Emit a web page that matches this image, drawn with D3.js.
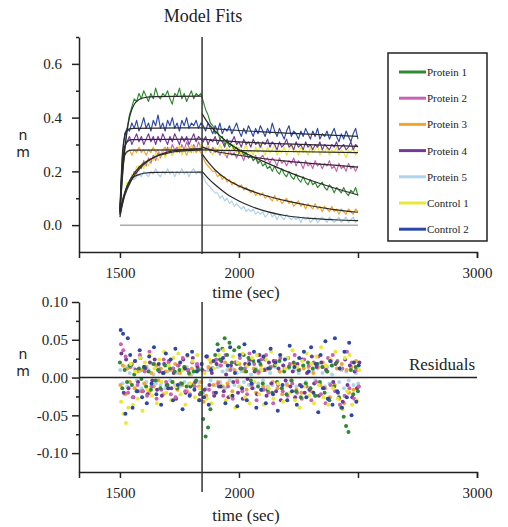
<!DOCTYPE html>
<html>
<head>
<meta charset="utf-8">
<script src="https://cdn.jsdelivr.net/npm/d3@7"></script>
<style>
body { margin: 0; background: #fff; }
text { font-family: "Liberation Serif", "Times New Roman", serif; fill: #222; }
</style>
</head>
<body>
<script>
// ---- data ----
var seriesNames = ["Protein 1", "Protein 2", "Protein 3", "Protein 4", "Protein 5", "Control 1", "Control 2"];
var seriesColors = ["#2f8a2f", "#c862b4", "#f2a52c", "#76399a", "#aed3ee", "#e9e935", "#2c48a6"];

var dissocStart = 1845;

// sampling times (sec) shared by traces and residuals
var traceTimes = [
  1500,1510,1520,1530,1540,1550,1560,1570,1580,1590,
  1600,1610,1620,1630,1640,1650,1660,1670,1680,1690,
  1700,1710,1720,1730,1740,1750,1760,1770,1780,1790,
  1800,1810,1820,1830,1840,1850,1860,1870,1880,1890,
  1900,1910,1920,1930,1940,1950,1960,1970,1980,1990,
  2000,2010,2020,2030,2040,2050,2060,2070,2080,2090,
  2100,2110,2120,2130,2140,2150,2160,2170,2180,2190,
  2200,2210,2220,2230,2240,2250,2260,2270,2280,2290,
  2300,2310,2320,2330,2340,2350,2360,2370,2380,2390,
  2400,2410,2420,2430,2440,2450,2460,2470,2480,2490,
  2500];

var protein1 = [
  0.05,0.17,0.28,0.36,0.41,0.44,0.47,0.46,0.49,0.47,
  0.50,0.48,0.46,0.49,0.47,0.51,0.48,0.47,0.49,0.48,
  0.50,0.47,0.45,0.49,0.48,0.51,0.47,0.49,0.46,0.48,
  0.50,0.47,0.49,0.48,0.49,0.46,0.43,0.41,0.38,0.37,
  0.34,0.35,0.32,0.33,0.30,0.31,0.29,0.30,0.28,0.29,
  0.27,0.28,0.26,0.27,0.25,0.26,0.24,0.25,0.23,0.24,
  0.22,0.23,0.21,0.22,0.20,0.22,0.20,0.19,0.21,0.19,
  0.18,0.20,0.18,0.17,0.19,0.17,0.16,0.18,0.16,0.15,
  0.17,0.15,0.16,0.14,0.15,0.16,0.14,0.13,0.15,0.14,
  0.12,0.14,0.13,0.12,0.14,0.12,0.11,0.13,0.12,0.14,
  0.11];
var protein2 = [
  0.04,0.08,0.12,0.14,0.16,0.17,0.20,0.19,0.22,0.21,
  0.24,0.22,0.25,0.23,0.26,0.24,0.27,0.25,0.28,0.26,
  0.29,0.27,0.30,0.28,0.29,0.27,0.30,0.28,0.31,0.29,
  0.28,0.30,0.28,0.31,0.29,0.29,0.28,0.30,0.27,0.29,
  0.27,0.28,0.26,0.28,0.27,0.25,0.28,0.26,0.27,0.25,
  0.27,0.26,0.24,0.27,0.25,0.26,0.24,0.26,0.23,0.25,
  0.26,0.24,0.25,0.23,0.25,0.24,0.22,0.25,0.23,0.24,
  0.22,0.24,0.23,0.25,0.22,0.24,0.23,0.21,0.24,0.22,
  0.23,0.21,0.24,0.22,0.23,0.21,0.23,0.22,0.24,0.21,
  0.22,0.20,0.23,0.21,0.22,0.20,0.23,0.21,0.22,0.20,
  0.22];
var protein3 = [
  0.04,0.20,0.26,0.27,0.28,0.26,0.28,0.27,0.29,0.27,
  0.28,0.26,0.28,0.27,0.29,0.27,0.28,0.26,0.28,0.29,
  0.27,0.28,0.26,0.28,0.27,0.29,0.27,0.28,0.26,0.28,
  0.27,0.29,0.27,0.28,0.27,0.25,0.23,0.22,0.21,0.20,
  0.20,0.18,0.19,0.17,0.18,0.16,0.17,0.15,0.16,0.15,
  0.14,0.15,0.13,0.14,0.13,0.12,0.13,0.11,0.12,0.11,
  0.12,0.10,0.11,0.10,0.09,0.11,0.09,0.10,0.08,0.09,
  0.10,0.08,0.09,0.07,0.08,0.09,0.07,0.08,0.06,0.08,
  0.07,0.06,0.08,0.06,0.07,0.05,0.07,0.06,0.05,0.07,
  0.05,0.06,0.04,0.06,0.05,0.04,0.06,0.05,0.04,0.06,
  0.05];
var protein4 = [
  0.05,0.22,0.29,0.31,0.33,0.30,0.32,0.34,0.31,0.33,
  0.30,0.32,0.34,0.31,0.33,0.30,0.33,0.31,0.34,0.32,
  0.30,0.33,0.31,0.34,0.32,0.30,0.33,0.31,0.33,0.30,
  0.32,0.34,0.31,0.33,0.32,0.31,0.33,0.30,0.32,0.31,
  0.33,0.30,0.32,0.31,0.29,0.32,0.30,0.31,0.33,0.30,
  0.31,0.29,0.32,0.30,0.31,0.29,0.32,0.30,0.31,0.29,
  0.31,0.30,0.32,0.29,0.31,0.30,0.28,0.31,0.29,0.30,
  0.32,0.29,0.30,0.28,0.31,0.29,0.30,0.28,0.31,0.29,
  0.30,0.28,0.30,0.29,0.31,0.28,0.30,0.29,0.28,0.30,
  0.29,0.31,0.28,0.29,0.30,0.28,0.29,0.31,0.28,0.30,
  0.29];
var protein5 = [
  0.03,0.07,0.11,0.13,0.15,0.17,0.17,0.18,0.19,0.18,
  0.20,0.19,0.18,0.20,0.19,0.21,0.19,0.18,0.20,0.19,
  0.21,0.19,0.20,0.18,0.20,0.19,0.21,0.19,0.20,0.18,
  0.20,0.21,0.19,0.20,0.19,0.18,0.16,0.15,0.14,0.13,
  0.12,0.12,0.10,0.11,0.09,0.10,0.08,0.09,0.07,0.08,
  0.07,0.06,0.07,0.05,0.06,0.05,0.06,0.04,0.05,0.04,
  0.05,0.03,0.04,0.05,0.03,0.04,0.02,0.04,0.03,0.02,
  0.04,0.03,0.02,0.03,0.02,0.03,0.01,0.03,0.02,0.03,
  0.01,0.02,0.03,0.01,0.02,0.03,0.02,0.01,0.03,0.02,
  0.01,0.02,0.03,0.01,0.02,0.03,0.01,0.02,0.03,0.01,
  0.02];
var control1 = [
  0.05,0.10,0.11,0.16,0.15,0.19,0.18,0.22,0.20,0.23,
  0.21,0.24,0.22,0.25,0.24,0.27,0.24,0.26,0.28,0.25,
  0.27,0.29,0.26,0.28,0.27,0.30,0.26,0.28,0.29,0.27,
  0.30,0.27,0.29,0.28,0.30,0.29,0.27,0.30,0.28,0.26,
  0.29,0.27,0.30,0.28,0.26,0.29,0.27,0.28,0.30,0.27,
  0.29,0.26,0.28,0.30,0.27,0.28,0.26,0.29,0.27,0.30,
  0.28,0.26,0.29,0.27,0.28,0.30,0.26,0.28,0.27,0.29,
  0.26,0.28,0.30,0.27,0.28,0.26,0.29,0.27,0.28,0.26,
  0.29,0.27,0.28,0.30,0.26,0.28,0.27,0.29,0.26,0.28,
  0.27,0.29,0.26,0.28,0.27,0.25,0.28,0.27,0.29,0.26,
  0.28];
var control2 = [
  0.06,0.25,0.34,0.36,0.35,0.38,0.36,0.39,0.35,0.37,
  0.40,0.36,0.38,0.35,0.39,0.37,0.41,0.36,0.38,0.35,
  0.39,0.37,0.40,0.36,0.38,0.35,0.39,0.37,0.40,0.36,
  0.38,0.37,0.39,0.36,0.38,0.37,0.35,0.38,0.36,0.34,
  0.37,0.35,0.38,0.34,0.36,0.35,0.37,0.34,0.36,0.38,
  0.35,0.33,0.36,0.34,0.37,0.35,0.33,0.36,0.34,0.37,
  0.35,0.33,0.36,0.34,0.38,0.35,0.33,0.36,0.34,0.32,
  0.35,0.37,0.33,0.35,0.34,0.32,0.35,0.33,0.36,0.34,
  0.32,0.35,0.33,0.36,0.32,0.34,0.33,0.35,0.32,0.34,
  0.36,0.33,0.31,0.34,0.32,0.35,0.33,0.31,0.34,0.36,
  0.32];

// model fit curves: [association phase, dissociation phase], points as [time, nm]
var fitProtein1 = [
  [[1500,0.05],[1510,0.18],[1520,0.28],[1530,0.35],[1540,0.40],[1550,0.43],[1560,0.45],[1580,0.467],[1600,0.474],[1650,0.478],[1845,0.48]],
  [[1845,0.415],[1870,0.38],[1900,0.35],[1950,0.31],[2000,0.28],[2050,0.258],[2100,0.238],[2200,0.20],[2300,0.167],[2400,0.138],[2500,0.112]]];
var fitProtein2 = [
  [[1500,0.04],[1520,0.11],[1550,0.17],[1600,0.225],[1650,0.255],[1700,0.272],[1750,0.28],[1845,0.285]],
  [[1845,0.29],[1900,0.275],[2000,0.26],[2100,0.248],[2200,0.238],[2300,0.23],[2400,0.223],[2500,0.216]]];
var fitProtein3 = [
  [[1500,0.04],[1510,0.20],[1520,0.26],[1530,0.274],[1550,0.279],[1845,0.28]],
  [[1845,0.265],[1870,0.235],[1900,0.205],[1950,0.17],[2000,0.146],[2100,0.113],[2200,0.09],[2300,0.072],[2400,0.058],[2500,0.048]]];
var fitProtein4 = [
  [[1500,0.05],[1510,0.22],[1520,0.29],[1530,0.31],[1550,0.318],[1845,0.32]],
  [[1845,0.32],[2000,0.31],[2200,0.302],[2500,0.293]]];
var fitProtein5 = [
  [[1500,0.03],[1510,0.08],[1520,0.12],[1530,0.145],[1540,0.16],[1550,0.172],[1560,0.18],[1580,0.188],[1600,0.193],[1650,0.196],[1845,0.197]],
  [[1845,0.20],[1870,0.175],[1900,0.15],[1950,0.115],[2000,0.09],[2050,0.07],[2100,0.055],[2200,0.035],[2300,0.025],[2400,0.02],[2500,0.017]]];
var fitControl1 = [
  [[1500,0.05],[1510,0.09],[1520,0.12],[1530,0.145],[1540,0.165],[1550,0.18],[1570,0.205],[1600,0.23],[1650,0.255],[1700,0.268],[1750,0.275],[1800,0.278],[1845,0.28]],
  [[1845,0.28],[2000,0.277],[2200,0.274],[2500,0.27]]];
var fitControl2 = [
  [[1500,0.06],[1510,0.26],[1520,0.33],[1530,0.352],[1540,0.358],[1560,0.36],[1845,0.362]],
  [[1845,0.362],[2000,0.352],[2200,0.342],[2500,0.33]]];

// residuals (nm) at traceTimes; residShift = sampling offset (sec) of each series
var residShift = [0, 4, 2, 6, 1, 5, 3];

var residProtein1 = [
  0.020,-0.014,0.010,-0.006,0.016,-0.010,0.004,-0.018,0.012,-0.002,
  0.014,-0.012,0.008,-0.016,0.018,-0.004,0.010,-0.014,0.006,0.016,
  -0.010,0.012,-0.006,0.008,-0.014,0.010,-0.008,0.014,-0.012,0.006,
  -0.010,0.008,-0.004,0.010,-0.020,-0.055,-0.078,-0.066,-0.042,0.012,
  0.030,0.044,0.024,0.038,0.052,0.030,0.046,0.020,0.036,0.018,
  0.040,0.012,0.030,0.008,0.026,-0.004,0.022,0.010,-0.012,0.018,
  -0.008,0.024,-0.016,0.012,-0.020,0.016,-0.006,0.022,-0.014,0.008,
  -0.022,0.014,-0.004,0.020,-0.018,0.010,-0.026,0.016,-0.008,0.020,
  -0.014,0.012,-0.024,0.018,-0.006,0.014,-0.020,0.008,-0.030,0.016,
  -0.012,0.020,-0.026,-0.040,-0.052,-0.064,-0.072,0.010,-0.022,0.014,
  -0.018];
var residProtein2 = [
  0.044,0.036,0.028,-0.020,0.014,-0.026,0.022,-0.010,0.030,-0.018,
  0.008,-0.024,0.034,-0.012,0.018,-0.028,0.010,-0.016,0.024,-0.006,
  0.020,-0.022,0.012,-0.026,0.016,-0.008,0.026,-0.018,0.010,-0.022,
  0.020,-0.012,0.018,-0.030,-0.020,0.008,0.028,-0.016,0.012,-0.020,
  0.024,-0.008,0.016,-0.024,0.030,-0.012,0.010,-0.028,0.020,-0.006,
  0.026,-0.018,0.012,-0.022,0.032,-0.010,0.018,-0.030,0.008,0.024,
  -0.016,0.030,-0.020,0.014,-0.034,0.022,-0.010,0.026,-0.018,0.012,
  -0.024,0.018,-0.008,0.030,-0.020,0.010,-0.028,0.024,-0.012,0.016,
  -0.030,0.020,-0.006,0.028,-0.022,0.014,-0.034,0.026,-0.010,0.030,
  -0.018,0.022,-0.036,0.012,-0.024,0.034,-0.014,0.020,-0.028,0.010,
  -0.012];
var residProtein3 = [
  -0.010,0.016,-0.022,0.012,-0.006,0.018,-0.014,0.008,-0.018,0.010,
  -0.008,0.014,-0.020,0.006,-0.012,0.016,-0.004,0.012,-0.022,0.008,
  -0.014,0.010,-0.006,0.018,-0.016,0.006,-0.010,0.014,-0.018,0.004,
  0.012,-0.008,0.016,-0.012,-0.006,-0.032,-0.024,0.014,0.020,-0.010,
  0.022,-0.006,0.016,-0.012,0.020,-0.008,0.014,-0.018,0.010,-0.004,
  0.018,-0.014,0.008,-0.016,0.022,-0.010,0.012,-0.020,0.006,0.016,
  -0.012,0.010,-0.018,0.014,-0.006,0.020,-0.014,0.008,-0.022,0.012,
  -0.010,0.016,-0.004,0.018,-0.016,0.010,-0.020,0.012,-0.008,0.014,
  -0.018,0.006,-0.024,0.014,-0.010,0.020,-0.014,0.008,-0.026,0.016,
  -0.010,0.012,-0.028,0.018,-0.034,0.010,-0.020,0.014,-0.016,0.022,
  -0.012];
var residProtein4 = [
  0.032,-0.020,0.024,-0.014,0.016,-0.026,0.010,-0.006,0.026,-0.018,
  0.012,-0.022,0.020,-0.004,0.024,-0.016,0.008,-0.024,0.018,-0.010,
  0.022,-0.014,0.006,-0.028,0.016,-0.008,0.024,-0.020,0.010,-0.012,
  0.026,-0.006,0.014,-0.022,0.010,-0.016,0.028,-0.010,0.006,-0.024,
  0.018,-0.012,0.022,-0.018,0.004,-0.026,0.016,-0.006,0.020,-0.020,
  0.012,-0.028,0.018,-0.002,0.024,-0.014,0.008,-0.022,0.030,-0.016,
  0.010,-0.024,0.020,-0.008,0.022,-0.018,0.012,-0.030,0.016,-0.004,
  0.026,-0.012,0.008,-0.026,0.018,-0.010,0.024,-0.020,0.006,-0.016,
  0.028,-0.008,0.014,-0.024,0.020,-0.014,0.010,-0.028,0.022,-0.006,
  0.018,-0.020,0.012,-0.032,0.024,-0.010,0.016,-0.026,0.008,-0.014,
  0.020];
var residProtein5 = [
  0.010,-0.008,0.014,-0.012,0.006,-0.010,0.012,-0.004,0.008,-0.014,
  0.012,-0.006,0.010,-0.012,0.004,-0.008,0.014,-0.010,0.006,-0.014,
  0.008,-0.004,0.012,-0.010,0.006,-0.012,0.010,-0.006,0.014,-0.008,
  0.004,-0.012,0.010,-0.006,0.012,-0.020,-0.014,0.010,-0.004,0.012,
  -0.010,0.014,-0.006,0.008,-0.014,0.010,-0.004,0.012,-0.010,0.006,
  -0.012,0.008,-0.006,0.014,-0.010,0.004,-0.014,0.012,-0.008,0.010,
  -0.004,0.012,-0.012,0.006,-0.010,0.014,-0.006,0.008,-0.014,0.010,
  -0.008,0.012,-0.004,0.010,-0.012,0.006,-0.010,0.014,-0.006,0.008,
  -0.014,0.010,-0.004,0.012,-0.010,0.006,-0.012,0.014,-0.008,0.004,
  -0.010,0.012,-0.006,0.010,-0.014,0.008,-0.004,0.012,-0.010,0.006,
  -0.008];
var residControl1 = [
  -0.032,-0.048,-0.060,-0.040,0.018,-0.036,0.008,-0.028,0.026,-0.044,
  0.020,-0.016,0.030,-0.024,0.012,-0.034,0.024,-0.006,0.034,-0.020,
  0.016,-0.030,0.026,-0.012,0.032,-0.022,0.010,-0.036,0.028,-0.008,
  0.022,-0.026,0.030,-0.014,0.018,0.006,-0.028,0.024,-0.034,0.012,
  -0.020,0.030,-0.010,0.036,-0.030,0.014,-0.024,0.028,-0.040,0.020,
  -0.012,0.032,-0.026,0.016,-0.034,0.026,-0.006,0.030,-0.022,0.010,
  -0.036,0.024,-0.014,0.034,-0.028,0.018,-0.008,0.030,-0.032,0.012,
  0.026,-0.020,0.036,-0.030,0.014,-0.040,0.022,-0.012,0.032,-0.024,
  0.018,-0.034,0.028,-0.010,0.040,-0.026,0.016,-0.036,0.024,-0.014,
  0.034,-0.028,0.012,-0.042,0.026,-0.018,0.030,-0.036,0.020,-0.030,
  0.010];
var residControl2 = [
  0.063,0.058,-0.048,0.052,0.030,-0.040,0.022,-0.018,0.036,-0.026,
  0.014,-0.034,0.028,-0.008,0.040,-0.022,0.018,-0.036,0.006,0.032,
  -0.014,0.024,-0.030,0.038,-0.010,0.020,-0.042,0.012,0.030,-0.024,
  0.034,-0.016,0.008,-0.030,0.018,-0.026,0.028,-0.036,0.010,0.022,
  -0.020,0.036,-0.012,0.026,-0.034,0.016,0.040,-0.024,0.006,-0.038,
  0.030,-0.014,0.044,-0.030,0.018,-0.008,0.034,-0.040,0.022,-0.016,
  0.028,-0.034,0.012,0.038,-0.022,0.020,-0.044,0.030,-0.010,0.024,
  -0.030,0.042,-0.018,0.014,-0.036,0.026,-0.012,0.034,-0.026,0.008,
  0.040,-0.020,0.018,-0.046,0.030,-0.014,0.048,-0.028,0.022,-0.036,
  0.052,-0.018,0.012,-0.040,0.034,-0.026,0.046,-0.050,0.020,-0.032,
  0.016];

var topYTicks = [0, 0.2, 0.4, 0.6];
var topYMinor = [0.1, 0.3, 0.5, 0.7];
var resYTicks = [-0.1, -0.05, 0, 0.05, 0.1];
var resYMinor = [-0.075, -0.025, 0.025, 0.075];
var xTicks = [1500, 2000, 2500, 3000];

window.onload = function () {

    var w = 508, h = 527;
    var traces = [protein1, protein2, protein3, protein4, protein5, control1, control2];
    var fits = [fitProtein1, fitProtein2, fitProtein3, fitProtein4, fitProtein5, fitControl1, fitControl2];
    var resids = [residProtein1, residProtein2, residProtein3, residProtein4, residProtein5, residControl1, residControl2];
    var drawOrder = [4, 2, 1, 5, 3, 6, 0]; // back to front
    var dotOrder = [4, 2, 3, 1, 0, 5, 6];

    var svg = d3.select("body")
        .append("svg")
        .attr("width", w)
        .attr("height", h);

    var x = d3.scaleLinear().domain([1328, 3000]).range([79, 477]);
    var yTop = d3.scaleLinear().domain([-0.1, 0.7]).range([252, 37]);
    var yRes = d3.scaleLinear().domain([-0.125, 0.1]).range([472, 302]);

    var fmtMinus = function (f) {
        return function (d) { return f(d).replace("\u2212", "-"); };
    };

    function styleAxis(g) {
        g.attr("font-family", null).attr("font-size", null);
        g.select(".domain").attr("stroke", "#222").attr("stroke-width", 1.5);
        g.selectAll(".tick line").attr("stroke", "#222").attr("stroke-width", 1.5);
        g.selectAll(".tick text")
            .attr("fill", "#222")
            .style("font-family", "'Liberation Serif', serif")
            .style("font-size", "15px");
    }

    function xAxisAt(yPos) {
        var g = svg.append("g")
            .attr("transform", "translate(0," + yPos + ")")
            .call(d3.axisBottom(x)
                .tickValues(xTicks)
                .tickSize(6)
                .tickSizeOuter(6)
                .tickPadding(9)
                .tickFormat(function (d) { return d === 2500 ? "" : d; }));
        styleAxis(g);
    }

    // ======== top panel: model fits ========
    var gTopMinor = svg.append("g")
        .attr("transform", "translate(79,0)")
        .call(d3.axisLeft(yTop).tickValues(topYMinor).tickSize(3).tickFormat(""));
    gTopMinor.select(".domain").remove();
    gTopMinor.selectAll(".tick line").attr("stroke", "#222").attr("stroke-width", 1.5);

    var gTopY = svg.append("g")
        .attr("transform", "translate(79,0)")
        .call(d3.axisLeft(yTop).tickValues(topYTicks).tickSize(7).tickSizeOuter(0)
            .tickPadding(10).tickFormat(d3.format(".1f")));
    styleAxis(gTopY);

    xAxisAt(252);

    // zero baseline
    svg.append("line")
        .attr("x1", x(1500)).attr("x2", x(2500))
        .attr("y1", yTop(0)).attr("y2", yTop(0))
        .attr("stroke", "#aaa").attr("stroke-width", 1.5);

    var line = d3.line()
        .x(function (d, i) { return x(traceTimes[i]); })
        .y(function (d) { return yTop(d); });

    drawOrder.forEach(function (k) {
        svg.append("path")
            .datum(traces[k])
            .attr("d", line)
            .attr("fill", "none")
            .attr("stroke", seriesColors[k])
            .attr("stroke-width", 1.15)
            .attr("stroke-linejoin", "round");
    });

    var fitLine = d3.line()
        .x(function (d) { return x(d[0]); })
        .y(function (d) { return yTop(d[1]); })
        .curve(d3.curveMonotoneX);

    fits.forEach(function (f) {
        f.forEach(function (phase) {
            svg.append("path")
                .datum(phase)
                .attr("d", fitLine)
                .attr("fill", "none")
                .attr("stroke", "#2a2a2a")
                .attr("stroke-width", 1.2);
        });
    });

    // injection line
    svg.append("line")
        .attr("x1", x(dissocStart)).attr("x2", x(dissocStart))
        .attr("y1", yTop(0.7)).attr("y2", 254)
        .attr("stroke", "#333").attr("stroke-width", 1.5);

    svg.append("text")
        .attr("x", 203).attr("y", 22)
        .attr("text-anchor", "middle")
        .style("font-size", "18px")
        .text("Model Fits");

    svg.append("text")
        .attr("x", 246).attr("y", 298)
        .attr("text-anchor", "middle")
        .style("font-size", "17px")
        .text("time (sec)");

    function unitLabel(yN) {
        svg.append("text")
            .attr("x", 23).attr("y", yN)
            .attr("text-anchor", "middle")
            .style("font-family", "'DejaVu Sans', sans-serif")
            .style("font-size", "14px")
            .text("n");
        svg.append("text")
            .attr("x", 23).attr("y", yN + 17)
            .attr("text-anchor", "middle")
            .style("font-family", "'DejaVu Sans', sans-serif")
            .style("font-size", "14px")
            .text("m");
    }
    unitLabel(140);

    // legend
    var legend = svg.append("g").attr("transform", "translate(388,53)");
    legend.append("rect")
        .attr("width", 99).attr("height", 188)
        .attr("fill", "#fff")
        .attr("stroke", "#222").attr("stroke-width", 1.5);
    var items = legend.selectAll(".item")
        .data(seriesNames)
        .enter()
        .append("g")
        .attr("class", "item")
        .attr("transform", function (d, i) { return "translate(0," + (19 + i * 26.2) + ")"; });
    items.append("line")
        .attr("x1", 11).attr("x2", 38)
        .attr("stroke", function (d, i) { return seriesColors[i]; })
        .attr("stroke-width", 3);
    items.append("text")
        .attr("x", 39).attr("y", 4)
        .style("font-size", "11px")
        .text(function (d) { return d; });

    // ======== bottom panel: residuals ========
    var gResMinor = svg.append("g")
        .attr("transform", "translate(79,0)")
        .call(d3.axisLeft(yRes).tickValues(resYMinor).tickSize(3).tickFormat(""));
    gResMinor.select(".domain").remove();
    gResMinor.selectAll(".tick line").attr("stroke", "#222").attr("stroke-width", 1.5);

    var gResY = svg.append("g")
        .attr("transform", "translate(79,0)")
        .call(d3.axisLeft(yRes).tickValues(resYTicks).tickSize(7).tickSizeOuter(0)
            .tickPadding(4).tickFormat(fmtMinus(d3.format(".2f"))));
    styleAxis(gResY);

    xAxisAt(472);

    dotOrder.forEach(function (k) {
        svg.append("g")
            .selectAll("circle")
            .data(resids[k])
            .enter()
            .append("circle")
            .attr("cx", function (d, i) { return x(traceTimes[i] + residShift[k]); })
            .attr("cy", function (d) { return yRes(d); })
            .attr("r", 2)
            .attr("fill", seriesColors[k]);
    });

    svg.append("line")
        .attr("x1", 79).attr("x2", x(3000))
        .attr("y1", yRes(0)).attr("y2", yRes(0))
        .attr("stroke", "#222").attr("stroke-width", 1.5);

    svg.append("line")
        .attr("x1", x(dissocStart)).attr("x2", x(dissocStart))
        .attr("y1", yRes(0.1)).attr("y2", 492)
        .attr("stroke", "#333").attr("stroke-width", 1.5);

    svg.append("text")
        .attr("x", 475).attr("y", 370)
        .attr("text-anchor", "end")
        .style("font-size", "17px")
        .text("Residuals");

    svg.append("text")
        .attr("x", 246).attr("y", 521)
        .attr("text-anchor", "middle")
        .style("font-size", "17px")
        .text("time (sec)");

    unitLabel(359);
};
</script>
</body>
</html>
